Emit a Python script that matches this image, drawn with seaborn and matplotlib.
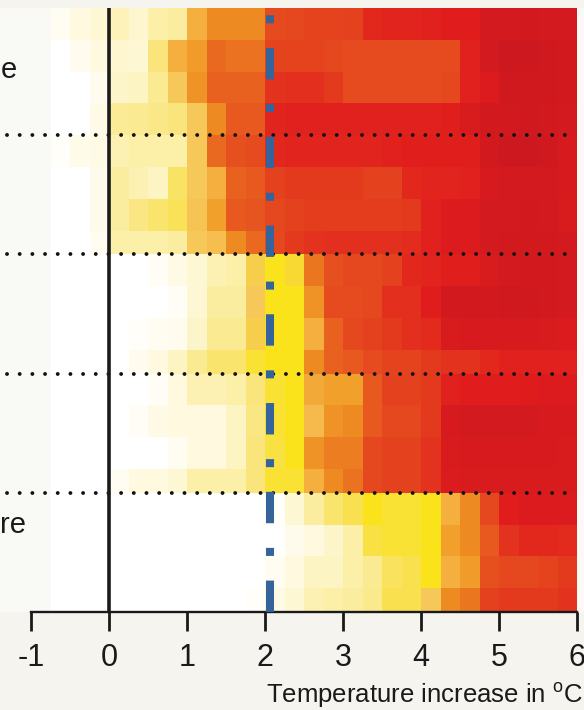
import numpy as np
import pandas as pd
import matplotlib
matplotlib.use("Agg")
import matplotlib.pyplot as plt
import seaborn as sns
from matplotlib.colors import LinearSegmentedColormap

nan = np.nan

# ---------------- data ----------------
tick_values = [-1, 0, 1, 2, 3, 4, 5, 6]
tick_labels = ["-1", "0", "1", "2", "3", "4", "5", "6"]
bin_start = -1.0
bin_width = 0.25
bin_count = 28
threshold_2c = 2.07
row_labels = ["e", "re"]   # the visible ends of the row labels of rows 1 and 5

# risk level (0 = none, 1 = very high) per 0.25 degC bin, 4 sub-bands per row
row1 = [
    [nan, 0.04, 0.10, 0.12, 0.17, 0.13, 0.20, 0.22, 0.50, 0.60, 0.60, 0.60, 0.75, 0.76, 0.77, 0.77, 0.78, 0.86, 0.87, 0.87, 0.88, 0.90, 0.90, 0.95, 0.95, 0.96, 0.95, 0.95],
    [nan, 0.00, 0.05, 0.10, 0.13, 0.12, 0.30, 0.50, 0.56, 0.68, 0.66, 0.66, 0.77, 0.77, 0.77, 0.76, 0.75, 0.75, 0.75, 0.75, 0.75, 0.75, 0.88, 0.95, 0.98, 0.98, 0.97, 0.96],
    [nan, 0.00, 0.00, 0.05, 0.14, 0.15, 0.25, 0.45, 0.58, 0.70, 0.70, 0.70, 0.82, 0.83, 0.83, 0.80, 0.75, 0.75, 0.75, 0.75, 0.75, 0.76, 0.88, 0.92, 0.97, 0.97, 0.97, 0.96],
    [nan, 0.00, 0.00, 0.08, 0.24, 0.25, 0.27, 0.30, 0.45, 0.60, 0.72, 0.72, 0.87, 0.88, 0.88, 0.88, 0.88, 0.88, 0.88, 0.88, 0.88, 0.89, 0.93, 0.96, 0.96, 0.97, 0.96, 0.95],
]
row2 = [
    [nan, 0.02, 0.07, 0.08, 0.18, 0.20, 0.20, 0.20, 0.45, 0.68, 0.74, 0.75, 0.86, 0.87, 0.87, 0.87, 0.87, 0.87, 0.88, 0.89, 0.89, 0.89, 0.89, 0.96, 0.98, 0.98, 0.97, 0.94],
    [nan, 0.00, 0.00, 0.06, 0.22, 0.18, 0.15, 0.33, 0.45, 0.50, 0.70, 0.72, 0.78, 0.80, 0.80, 0.80, 0.80, 0.78, 0.78, 0.86, 0.87, 0.87, 0.88, 0.94, 0.95, 0.95, 0.95, 0.94],
    [nan, 0.00, 0.00, 0.06, 0.22, 0.28, 0.32, 0.35, 0.46, 0.55, 0.72, 0.73, 0.76, 0.78, 0.79, 0.79, 0.79, 0.79, 0.79, 0.80, 0.88, 0.92, 0.92, 0.95, 0.95, 0.96, 0.95, 0.93],
    [nan, 0.00, 0.00, 0.04, 0.20, 0.20, 0.20, 0.22, 0.45, 0.47, 0.60, 0.68, 0.76, 0.80, 0.82, 0.83, 0.83, 0.83, 0.83, 0.84, 0.88, 0.92, 0.92, 0.95, 0.96, 0.96, 0.96, 0.95],
]
row3 = [
    [nan, 0.00, 0.00, 0.00, 0.00, 0.00, 0.03, 0.08, 0.12, 0.18, 0.20, 0.44, 0.40, 0.42, 0.65, 0.74, 0.76, 0.76, 0.78, 0.86, 0.87, 0.89, 0.89, 0.93, 0.95, 0.96, 0.96, 0.95],
    [nan, 0.00, 0.00, 0.00, 0.00, 0.00, 0.00, 0.03, 0.12, 0.22, 0.22, 0.45, 0.40, 0.40, 0.58, 0.75, 0.75, 0.76, 0.83, 0.83, 0.90, 0.96, 0.96, 0.96, 0.97, 0.97, 0.96, 0.95],
    [nan, 0.00, 0.00, 0.00, 0.00, 0.02, 0.04, 0.05, 0.14, 0.25, 0.25, 0.44, 0.40, 0.40, 0.50, 0.70, 0.76, 0.78, 0.80, 0.83, 0.85, 0.93, 0.94, 0.94, 0.94, 0.94, 0.93, 0.92],
    [nan, 0.00, 0.00, 0.00, 0.00, 0.05, 0.10, 0.15, 0.25, 0.32, 0.32, 0.38, 0.40, 0.40, 0.60, 0.70, 0.72, 0.75, 0.77, 0.77, 0.80, 0.82, 0.82, 0.86, 0.88, 0.88, 0.88, 0.88],
]
row4 = [
    [nan, 0.00, 0.00, 0.00, 0.00, 0.00, 0.03, 0.10, 0.18, 0.18, 0.20, 0.30, 0.38, 0.40, 0.52, 0.55, 0.55, 0.72, 0.78, 0.78, 0.80, 0.88, 0.90, 0.90, 0.90, 0.91, 0.92, 0.92],
    [nan, 0.00, 0.00, 0.00, 0.00, 0.03, 0.08, 0.10, 0.10, 0.10, 0.15, 0.28, 0.38, 0.40, 0.48, 0.58, 0.60, 0.72, 0.76, 0.76, 0.80, 0.94, 0.95, 0.95, 0.95, 0.95, 0.94, 0.94],
    [nan, 0.00, 0.00, 0.00, 0.00, 0.00, 0.00, 0.04, 0.10, 0.10, 0.15, 0.30, 0.37, 0.40, 0.58, 0.63, 0.63, 0.76, 0.78, 0.78, 0.82, 0.93, 0.94, 0.94, 0.94, 0.94, 0.94, 0.93],
    [nan, 0.00, 0.00, 0.00, 0.04, 0.10, 0.10, 0.12, 0.20, 0.20, 0.20, 0.30, 0.38, 0.38, 0.50, 0.60, 0.66, 0.76, 0.78, 0.78, 0.82, 0.92, 0.93, 0.93, 0.93, 0.93, 0.93, 0.93],
]
row5 = [
    [nan, 0.00, 0.00, 0.00, 0.00, 0.00, 0.00, 0.00, 0.00, 0.00, 0.00, 0.00, 0.02, 0.12, 0.22, 0.32, 0.36, 0.40, 0.38, 0.38, 0.40, 0.50, 0.60, 0.76, 0.90, 0.92, 0.92, 0.92],
    [nan, 0.00, 0.00, 0.00, 0.00, 0.00, 0.00, 0.00, 0.00, 0.00, 0.00, 0.00, 0.00, 0.06, 0.10, 0.14, 0.20, 0.37, 0.38, 0.38, 0.40, 0.55, 0.60, 0.72, 0.82, 0.86, 0.86, 0.85],
    [nan, 0.00, 0.00, 0.00, 0.00, 0.00, 0.00, 0.00, 0.00, 0.00, 0.00, 0.00, 0.04, 0.10, 0.15, 0.15, 0.20, 0.25, 0.34, 0.36, 0.40, 0.50, 0.56, 0.74, 0.76, 0.76, 0.77, 0.80],
    [nan, 0.00, 0.00, 0.00, 0.00, 0.00, 0.00, 0.00, 0.00, 0.00, 0.00, 0.02, 0.08, 0.12, 0.18, 0.20, 0.22, 0.26, 0.36, 0.36, 0.45, 0.60, 0.65, 0.78, 0.80, 0.80, 0.80, 0.82],
]
rows = [row1, row2, row3, row4, row5]
# heights of the sub-bands (in grid units of ~8 px)
band_heights = [[4, 4, 4, 4], [4, 4, 4, 3], [4, 4, 4, 3], [4, 4, 4, 3], [4, 4, 4, 3]]

# ---------------- build grid ----------------
blocks = []
for row, heights in zip(rows, band_heights):
    for sub, h in zip(row, heights):
        blocks.append(np.repeat(np.array(sub, dtype=float)[None, :], h, axis=0))
grid = np.vstack(blocks)
columns = [f"{bin_start + i * bin_width:.2f}" for i in range(bin_count)]
df = pd.DataFrame(grid, columns=columns)
n_rows = grid.shape[0]
row_edges = np.cumsum([sum(h) for h in band_heights])[:-1]

cmap = LinearSegmentedColormap.from_list("embers", [
    (0.00, "#ffffff"),
    (0.10, "#fef9de"),
    (0.20, "#fcefa8"),
    (0.30, "#f9e57a"),
    (0.36, "#f9e050"),
    (0.40, "#fae31a"),
    (0.45, "#f6c85a"),
    (0.50, "#f4b040"),
    (0.55, "#f1a02c"),
    (0.60, "#ee8a22"),
    (0.70, "#e8621f"),
    (0.77, "#e4441e"),
    (0.83, "#e3301e"),
    (0.90, "#e01c1c"),
    (0.95, "#d41a1e"),
    (1.00, "#c9171f"),
])

# ---------------- figure ----------------
W, H = 584, 710
fig = plt.figure(figsize=(W / 100, H / 100), dpi=100, facecolor="#f5f4ef")
plt.rcParams["font.family"] = ["Liberation Sans", "DejaVu Sans"]
plt.rcParams["mathtext.fontset"] = "custom"
plt.rcParams["mathtext.rm"] = "Liberation Sans"

ax_top, ax_bottom = 8, 612
ax = fig.add_axes([0, (H - ax_bottom) / H, 1, (ax_bottom - ax_top) / H])
ax.set_facecolor("#f9f9f6")

sns.heatmap(df, ax=ax, cmap=cmap, vmin=0, vmax=1, cbar=False,
            xticklabels=False, yticklabels=False, linewidths=0)

def idx(t):
    return (t - bin_start) / bin_width

# pixel mapping: x=-1 at px 31, x=6 at px 577
px_left, px_right = 31.0, 577.0
ppu = (px_right - px_left) / bin_count
ax.set_xlim(-px_left / ppu, bin_count + (W - px_right) / ppu)
ax.set_ylim(n_rows, 0)

# axis
ax.set_xticks([idx(t) for t in tick_values])
ax.set_xticklabels(tick_labels)
ax.set_yticks([])
ax.tick_params(axis="x", bottom=True, direction="out", length=14, width=2,
               pad=8.5, labelsize=22, color="#1a1a1a", labelcolor="#1a1a1a")
for s in ["top", "left", "right"]:
    ax.spines[s].set_visible(False)
ax.spines["bottom"].set_visible(True)
ax.spines["bottom"].set_bounds(idx(-1), idx(6))
ax.spines["bottom"].set_linewidth(1.7)
ax.spines["bottom"].set_color("#1a1a1a")

# dotted row separators
for y in row_edges:
    ax.plot([(6.7 - px_left) / ppu, idx(6)], [y, y], color="#111111", lw=2.8,
            linestyle=(0, (0.01, 3.25)), dash_capstyle="round", clip_on=False, zorder=4)

# zero line
ax.plot([idx(0), idx(0)], [n_rows, 0], color="#1b1b1b", lw=2.6,
        solid_capstyle="butt", zorder=5)

# 2 degC dash-dot line (drawn bottom-up)
ax.plot([idx(threshold_2c), idx(threshold_2c)], [n_rows, 0], color="#35649c", lw=5.8,
        linestyle=(0, (3.9, 3.06, 1.0, 3.06)), dash_capstyle="butt", zorder=6)

# row label fragments at the left edge
fig.text(0.5 / W, 1 - 78 / H, row_labels[0], ha="left", va="baseline",
         fontsize=21, color="#1a1a1a")
fig.text(0.5 / W, 1 - 533 / H, row_labels[1], ha="left", va="baseline",
         fontsize=21, color="#1a1a1a")

fig.text(583 / W, 1 - 703 / H, r"Temperature increase in $^{\mathrm{o}}$C",
         ha="right", va="baseline", fontsize=18.5, color="#1a1a1a")

fig.savefig("out.png", dpi=100, facecolor=fig.get_facecolor())
